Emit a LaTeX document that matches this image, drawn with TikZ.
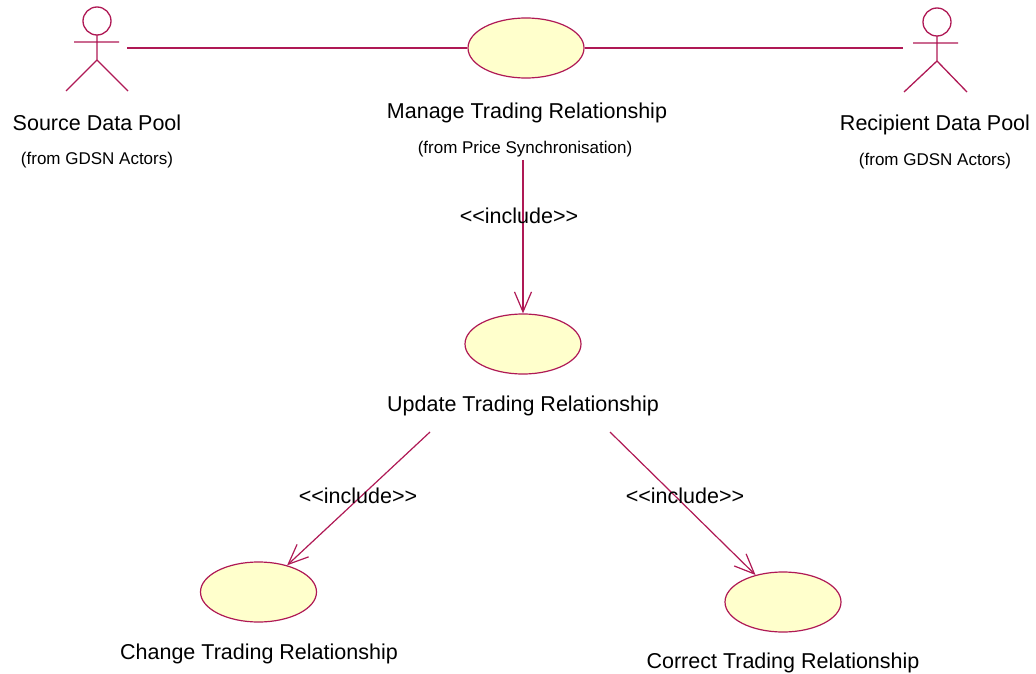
\documentclass[tikz,border=0pt]{standalone}
\usepackage{fontspec}
\setmainfont{Liberation Sans}
\usetikzlibrary{shapes.geometric,arrows.meta}
\definecolor{umlline}{RGB}{175,25,85}
\definecolor{umlfill}{RGB}{255,255,204}
\newcommand{\inclabel}{<\kern0pt<include>\kern0pt>}

\begin{document}
\begin{tikzpicture}[x=1pt,y=-1pt,
		usecase/.style={ellipse,draw=umlline,fill=umlfill,line width=1.2pt,minimum width=116pt,minimum height=60pt,inner sep=0pt},
		stick/.style={draw=umlline,line width=1.3pt},
		big/.style={font=\fontsize{21.5}{24}\selectfont,inner sep=0pt},
		small/.style={font=\fontsize{17}{20}\selectfont,inner sep=0pt},
		incl/.style={-{Straight Barb[length=20pt,width=17pt]},draw=umlline,line width=1.2pt}]
		\useasboundingbox (0,0) rectangle (1036,674);
		% Acteur source
		\draw[stick] (97,21) circle[radius=14pt];
		\draw[stick] (97,35) -- (97,60) (74,42) -- (119,42) (66,91) -- (97,60) -- (128,91);
		\coordinate (srcArm) at (127,48);
		\node[big] (srcName) at (97,123) {Source Data Pool};
		\node[small] (srcFrom) at (97,160) {(from GDSN Actors)};
		% Acteur destinataire
		\draw[stick] (937,22) circle[radius=14pt];
		\draw[stick] (937,36) -- (937,61) (913,43) -- (958,43) (904,92) -- (937,61) -- (967,92);
		\coordinate (recArm) at (903,48);
		\node[big] (recName) at (935,125) {Recipient Data Pool};
		\node[small] (recFrom) at (935,161) {(from GDSN Actors)};
		% Cas d'utilisation
		\node[usecase] (manage) at (526,48) {};
		\node[big] (manageName) at (527,113) {Manage Trading Relationship};
		\node[small] (manageFrom) at (525,149) {(from Price Synchronisation)};
		\node[usecase] (update) at (523,344) {};
		\node[big] (updateName) at (523,406) {Update Trading Relationship};
		\node[usecase] (change) at (258.5,592) {};
		\node[big] (changeName) at (259,654) {Change Trading Relationship};
		\node[usecase] (correct) at (783,602) {};
		\node[big] (correctName) at (783,663) {Correct Trading Relationship};
		% Associations
		\draw[stick] (srcArm) -- (manage.west);
		\draw[stick] (manage.east) -- (recArm);
		% Inclusions
		\coordinate (manageFoot) at (523,160);
		\coordinate (updateLeft) at (430,432);
		\coordinate (updateRight) at (610,432);
		\draw[incl] (manageFoot) -- (update.north);
		\draw[incl] (updateLeft) -- (change);
		\draw[incl] (updateRight) -- (correct);
		\node[big] (inclTop) at (519,216) {\inclabel};
		\node[big] (inclLeft) at (358,496) {\inclabel};
		\node[big] (inclRight) at (685,496) {\inclabel};
\end{tikzpicture}
\end{document}
